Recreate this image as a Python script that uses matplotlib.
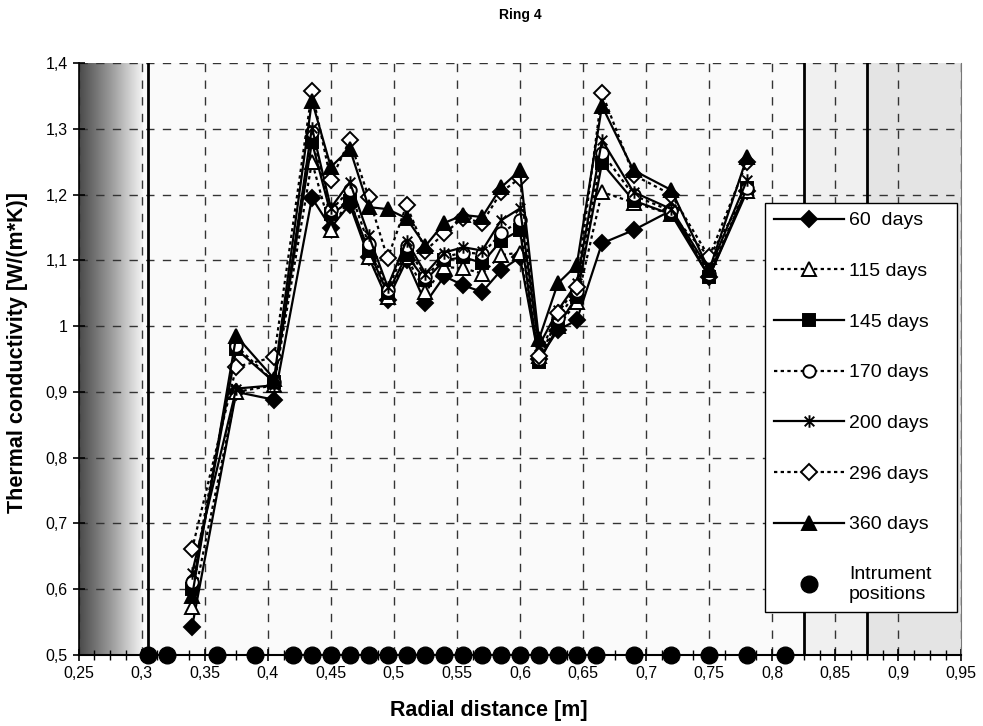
import numpy as np
import matplotlib
matplotlib.use("Agg")
import matplotlib.pyplot as plt
from matplotlib.colors import LinearSegmentedColormap
from matplotlib.ticker import FuncFormatter, MultipleLocator
from matplotlib.path import Path

plt.rcParams["font.family"] = ["Liberation Sans", "DejaVu Sans"]

# radial positions of the measured points
radius = [0.34, 0.375, 0.405, 0.435, 0.45, 0.465, 0.48, 0.495, 0.51, 0.525, 0.54, 0.555,
          0.57, 0.585, 0.60, 0.615, 0.63, 0.645, 0.665, 0.69, 0.72, 0.75, 0.78]

k_60 = [0.543, 0.90, 0.888, 1.195, 1.15, 1.185, 1.105, 1.04, 1.10, 1.035, 1.076, 1.062,
        1.052, 1.085, 1.105, 0.95, 0.994, 1.009, 1.126, 1.146, 1.176, 1.075, 1.205]
k_115 = [0.573, 0.90, 0.91, 1.25, 1.146, 1.195, 1.105, 1.045, 1.105, 1.052, 1.09, 1.088,
         1.08, 1.108, 1.112, 0.955, 1.00, 1.036, 1.204, 1.188, 1.17, 1.105, 1.205]
k_145 = [0.60, 0.965, 0.915, 1.28, 1.17, 1.19, 1.115, 1.05, 1.108, 1.07, 1.10, 1.105,
         1.096, 1.13, 1.146, 0.945, 1.0, 1.045, 1.248, 1.191, 1.17, 1.075, 1.21]
k_170 = [0.611, 0.97, 0.915, 1.295, 1.176, 1.207, 1.125, 1.055, 1.122, 1.075, 1.105, 1.112,
         1.11, 1.141, 1.161, 0.95, 1.012, 1.053, 1.264, 1.199, 1.175, 1.08, 1.21]
k_200 = [0.625, 0.905, 0.91, 1.302, 1.18, 1.219, 1.138, 1.06, 1.13, 1.08, 1.112, 1.12,
         1.115, 1.161, 1.179, 0.97, 1.024, 1.065, 1.283, 1.204, 1.178, 1.085, 1.222]
k_296 = [0.661, 0.938, 0.953, 1.357, 1.222, 1.283, 1.196, 1.103, 1.184, 1.115, 1.141, 1.165,
         1.157, 1.204, 1.225, 0.955, 1.02, 1.06, 1.355, 1.23, 1.20, 1.105, 1.25]
k_360 = [0.59, 0.985, 0.92, 1.343, 1.242, 1.27, 1.181, 1.178, 1.164, 1.122, 1.157, 1.169,
         1.166, 1.211, 1.237, 0.98, 1.065, 1.093, 1.335, 1.237, 1.207, 1.085, 1.257]

instruments = [0.305, 0.32, 0.36, 0.39, 0.42, 0.435, 0.45, 0.465, 0.48, 0.495, 0.51, 0.525,
               0.54, 0.555, 0.57, 0.585, 0.60, 0.615, 0.63, 0.645, 0.66, 0.69, 0.72, 0.75,
               0.78, 0.81]

# excel-like star marker: an x with a vertical stroke
star = Path([(-1, -1), (1, 1), (-1, 1), (1, -1), (0, -1.3), (0, 1.3)],
            [Path.MOVETO, Path.LINETO] * 3)

dotted = (0, (1.5, 1.5))
series = [
    ("60  days", k_60, "D", "black", "-", 8),
    ("115 days", k_115, "^", "white", dotted, 10),
    ("145 days", k_145, "s", "black", "-", 8),
    ("170 days", k_170, "o", "white", dotted, 9),
    ("200 days", k_200, star, "black", "-", 9),
    ("296 days", k_296, "D", "white", dotted, 8),
    ("360 days", k_360, "^", "black", "-", 10),
]

fig = plt.figure(figsize=(9.83, 7.26), dpi=100)
ax = fig.add_axes([0.080, 0.098, 0.898, 0.815])
ax.set_xlim(0.25, 0.95)
ax.set_ylim(0.5, 1.4)
ax.set_facecolor("#fafafa")

# shaded zones
grad = LinearSegmentedColormap.from_list("g", ["#4a4a4a", "#9a9a9a", "#f4f4f4"])
ax.imshow(np.linspace(0, 1, 200).reshape(1, -1), cmap=grad, aspect="auto",
          extent=[0.25, 0.30, 0.5, 1.4], zorder=0)
ax.axvspan(0.825, 0.875, color="#f0f0f0", zorder=0)
ax.axvspan(0.875, 0.95, color="#e4e4e4", zorder=0)
for xv in [0.305, 0.825, 0.875]:
    ax.axvline(xv, color="black", lw=2, zorder=1)

ax.grid(True, which="major", color="#333333", linestyle=(0, (6, 6)), lw=1)
ax.set_axisbelow(True)

for label, vals, mk, face, ls, ms in series:
    ax.plot(radius, vals, color="black", lw=1.6, linestyle=ls, marker=mk, markersize=ms,
            markerfacecolor=face, markeredgecolor="black", markeredgewidth=1.4,
            label=label, zorder=3)

ax.plot(instruments, [0.5] * len(instruments), linestyle="none", marker="o", markersize=12,
        color="black", label="Intrument\npositions", clip_on=False, zorder=5)

fmt = FuncFormatter(lambda v, p: f"{round(v, 3):g}".replace(".", ","))
ax.xaxis.set_major_locator(MultipleLocator(0.05))
ax.xaxis.set_minor_locator(MultipleLocator(0.0125))
ax.yaxis.set_major_locator(MultipleLocator(0.1))
ax.xaxis.set_major_formatter(fmt)
ax.yaxis.set_major_formatter(fmt)
ax.tick_params(axis="both", which="major", direction="inout", length=9, width=1.2,
               labelsize=11.5, color="black")
ax.tick_params(axis="x", which="minor", direction="inout", length=7, width=1)

ax.spines["top"].set_visible(False)
ax.spines["right"].set_color("#777777")
ax.spines["bottom"].set_linewidth(1.5)
ax.spines["left"].set_linewidth(1.2)

fig.text(0.497, 0.022, "Radial distance [m]", fontsize=15.5, fontweight="bold",
         ha="center", va="center")
fig.text(0.018, 0.515, "Thermal conductivity [W/(m*K)]", fontsize=15.5, fontweight="bold",
         ha="center", va="center", rotation=90)
fig.text(0.529, 0.979, "Ring 4", fontsize=10, fontweight="bold", ha="center", va="center")

leg = ax.legend(loc="upper left", bbox_to_anchor=(0.7778, 0.0726, 0.2177, 0.691),
                mode="expand", borderaxespad=0, fontsize=14,
                handlelength=3.6, labelspacing=1.7, borderpad=0.45, handletextpad=0.25,
                fancybox=False, framealpha=1, edgecolor="black")
leg.get_frame().set_linewidth(1)

fig.savefig("out.png", dpi=100)
